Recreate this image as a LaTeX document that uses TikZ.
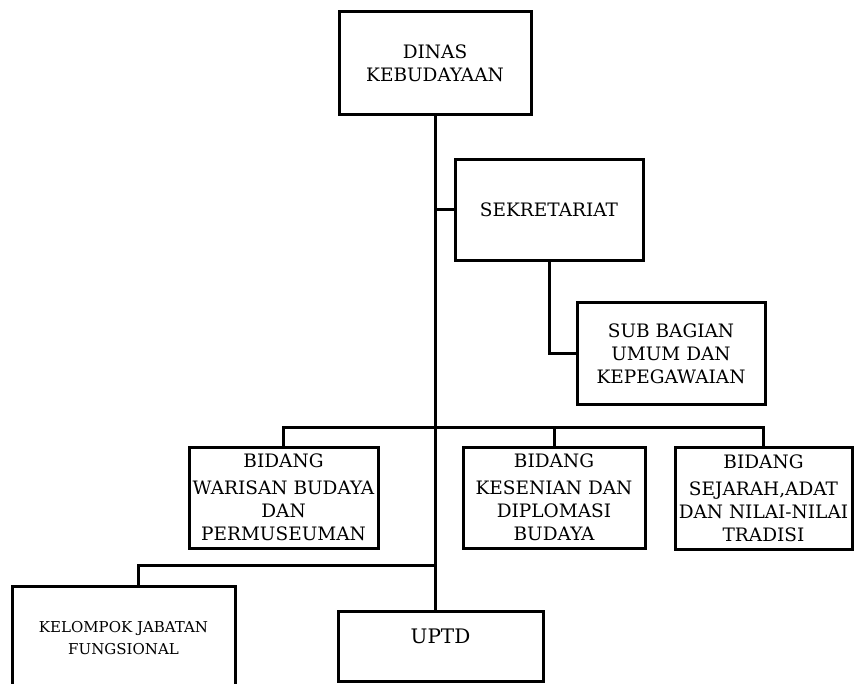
\documentclass[tikz,border=0pt]{standalone}
\usepackage{fontspec}
\setmainfont{DejaVu Serif}
\begin{document}
\begin{tikzpicture}[
    x=1pt, y=-1pt, line width=3pt,
    unit box/.style={draw, rectangle, align=center, inner sep=0pt,
        font=\fontsize{18.5}{23}\selectfont},
    small text/.style={font=\fontsize{15}{21.5}\selectfont},
    big text/.style={font=\fontsize{20}{23}\selectfont}
]
    \clip (0,0) rectangle (854,684);

    \node[unit box, minimum width=192pt, minimum height=103pt] (dinas) at (435,63.5) {DINAS\\KEBUDAYAAN};
    \node[unit box, minimum width=188pt, minimum height=101pt] (sekr)  at (549,210)  {SEKRETARIAT};
    \node[unit box, minimum width=188pt, minimum height=102pt] (sub)   at (671,354)  {SUB BAGIAN\\UMUM DAN\\KEPEGAWAIAN};
    \node[unit box, minimum width=189pt, minimum height=101pt] (b1)    at (283.5,497.5) {BIDANG\\[4pt]WARISAN BUDAYA\\DAN\\PERMUSEUMAN};
    \node[unit box, minimum width=182pt, minimum height=101pt] (b2)    at (554,497.5) {BIDANG\\[4pt]KESENIAN DAN\\DIPLOMASI\\BUDAYA};
    \node[unit box, minimum width=177pt, minimum height=102pt] (b3)    at (763.5,498) {BIDANG\\[4pt]SEJARAH,ADAT\\DAN NILAI-NILAI\\TRADISI};
    \node[unit box, small text, minimum width=223pt, minimum height=114pt] (kjf) at (123.5,643) {KELOMPOK JABATAN\\FUNGSIONAL\\[-11pt]};
    \node[unit box, big text, minimum width=205pt, minimum height=70pt] (uptd)  at (440.5,646) {UPTD\\[-3pt]};

    \coordinate (bus) at (435,427);
    \coordinate (lowbus) at (435,565);

    \draw (dinas.south) -- (dinas.south |- uptd.north);
    \draw (dinas.south |- sekr.west) -- (sekr.west);
    \draw (sekr.south) |- (sub.west);
    \draw (b1.north) |- (bus) -| (b3.north);
    \draw (b2.north) -- (b2.north |- bus);
    \draw ([xshift=14.5pt]kjf.north) |- (lowbus);
\end{tikzpicture}
\end{document}
